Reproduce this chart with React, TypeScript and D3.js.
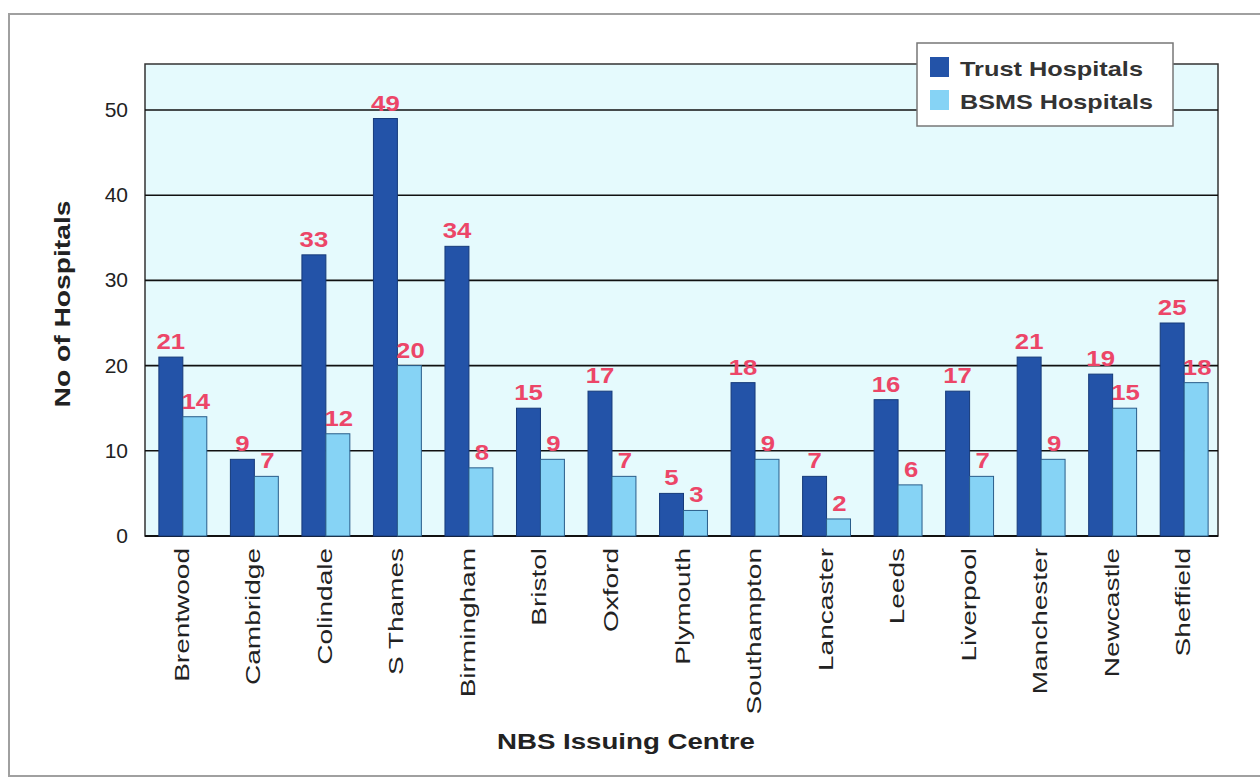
import React from "react";
import * as d3 from "d3";

const categories = ["Brentwood","Cambridge","Colindale","S Thames","Birmingham","Bristol","Oxford","Plymouth","Southampton","Lancaster","Leeds","Liverpool","Manchester","Newcastle","Sheffield"];
const trustValues = [21,9,33,49,34,15,17,5,18,7,16,17,21,19,25];
const bsmsValues = [14,7,12,20,8,9,7,3,9,2,6,7,9,15,18];
const seriesNames = ["Trust Hospitals","BSMS Hospitals"];
const yTicks = [0,10,20,30,40,50];

const W = 1260, H = 777;
const left = 145, right = 1218, top = 64, bottom = 536;
const colors = ["#2353a8", "#86d3f5"];
const strokeColors = ["#163a7a", "#2a5d8a"];
const labelColor = "#ec4668";
const font = "'Liberation Sans', Arial, sans-serif";

export default function App() {
  const x = d3.scaleBand<string>().domain(categories).range([146, 1221]).paddingInner(0.33).paddingOuter(0.18);
  const xs = d3.scaleBand<string>().domain(seriesNames).range([0, x.bandwidth()]);
  const y = d3.scaleLinear().domain([0, 55.4]).range([bottom, top]);
  const series = [trustValues, bsmsValues];

  return (
    <svg width={W} height={H} style={{ position: "absolute", left: 0, top: 0, background: "#fff" }}>
      <rect x={9} y={14} width={1300} height={762} fill="#fff" stroke="#a0a0a0" strokeWidth={2} />
      <rect x={left} y={top} width={right - left} height={bottom - top} fill="#e5fafd" stroke="#333" strokeWidth={1.5} />
      {yTicks.filter(t => t > 0).map(t => (
        <line key={t} x1={left} x2={right} y1={y(t)} y2={y(t)} stroke="#111" strokeWidth={1.6} />
      ))}
      <line x1={left} x2={right} y1={y(0)} y2={y(0)} stroke="#111" strokeWidth={2} />
      {yTicks.map(t => (
        <text key={t} x={128} y={y(t) + 7} textAnchor="end" fontFamily={font} fontSize={21} fill="#222">{t}</text>
      ))}
      {categories.map((c, i) => (
        <g key={c}>
          {series.map((vals, s) => {
            const bx = (x(c) as number) + (xs(seriesNames[s]) as number);
            const bw = xs.bandwidth();
            return (
              <g key={s}>
                <rect x={bx} y={y(vals[i])} width={bw} height={y(0) - y(vals[i])} fill={colors[s]} stroke={strokeColors[s]} strokeWidth={1} />
                <text transform={`translate(${bx + bw / 2 + (s === 1 ? 1 : 0)},${y(vals[i]) - 8}) scale(1.12,1)`} textAnchor="middle" fontFamily={font} fontWeight="bold" fontSize={23} fill={labelColor}>{vals[i]}</text>
              </g>
            );
          })}
          <text transform={`translate(${(x(c) as number) + x.bandwidth() / 2 + 6},548) rotate(-90) scale(1.4,1)`} textAnchor="end" fontFamily={font} fontSize={20} fill="#222">{c}</text>
        </g>
      ))}
      <text transform="translate(70,304) rotate(-90)" textAnchor="middle" fontFamily={font} fontWeight="bold" fontSize={22} fill="#222" textLength={207} lengthAdjust="spacingAndGlyphs">No of Hospitals</text>
      <text x={626} y={749} textAnchor="middle" fontFamily={font} fontWeight="bold" fontSize={22} fill="#222" textLength={258} lengthAdjust="spacingAndGlyphs">NBS Issuing Centre</text>
      <g>
        <rect x={917} y={43} width={256} height={83} fill="#fff" stroke="#777" strokeWidth={1.5} />
        {seriesNames.map((n, s) => (
          <g key={n}>
            <rect x={930} y={57 + s * 33} width={19} height={20} fill={colors[s]} />
            <text x={960} y={76 + s * 33} fontFamily={font} fontWeight="bold" fontSize={21} fill="#333" textLength={s === 0 ? 183 : 193} lengthAdjust="spacingAndGlyphs">{n}</text>
          </g>
        ))}
      </g>
    </svg>
  );
}
